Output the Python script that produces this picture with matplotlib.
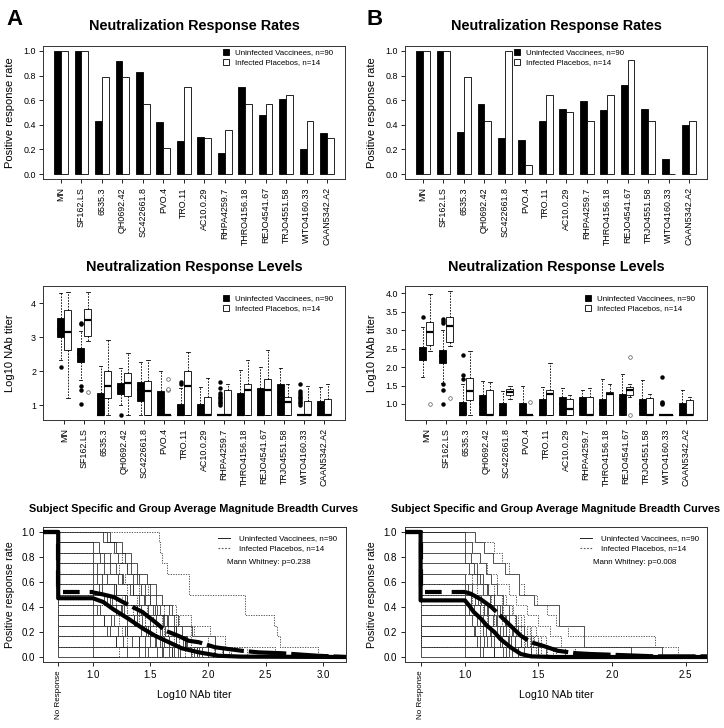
import numpy as np
import matplotlib
matplotlib.use('Agg')
import matplotlib.pyplot as plt
from matplotlib.lines import Line2D

plt.rcParams['font.family'] = ['Liberation Sans', 'DejaVu Sans']
plt.rcParams['axes.linewidth'] = 0.7

W, H = 724, 728

isolates = ['MN', 'SF162.LS', '6535.3', 'QH0692.42', 'SC422661.8', 'PVO.4', 'TRO.11',
            'AC10.0.29', 'RHPA4259.7', 'THRO4156.18', 'REJO4541.67', 'TRJO4551.58',
            'WITO4160.33', 'CAAN5342.A2']

# ---------------- response rates ----------------
rate_vacc_A = [1.0, 1.0, 0.43, 0.92, 0.83, 0.42, 0.27, 0.30, 0.17, 0.71, 0.48, 0.61, 0.20, 0.33]
rate_plac_A = [1.0, 1.0, 0.79, 0.79, 0.57, 0.21, 0.71, 0.29, 0.36, 0.57, 0.57, 0.64, 0.43, 0.29]
rate_vacc_B = [1.0, 1.0, 0.34, 0.57, 0.29, 0.28, 0.43, 0.53, 0.59, 0.52, 0.72, 0.53, 0.12, 0.40]
rate_plac_B = [1.0, 1.0, 0.79, 0.43, 1.0, 0.07, 0.64, 0.50, 0.43, 0.64, 0.93, 0.43, 0.0, 0.43]

# ---------------- response levels (box statistics, log10 titer) ----------------
q1_vacc_A = [2.99, 2.28, 0.70, 1.31, 1.13, 0.70, 0.70, 0.70, 0.70, 0.70, 0.70, 0.70, 0.70, 0.70]
med_vacc_A = [3.25, 2.50, 0.70, 1.50, 1.45, 0.70, 0.70, 0.70, 0.70, 0.70, 0.70, 1.10, 0.70, 0.70]
q3_vacc_A = [3.56, 2.69, 1.36, 1.66, 1.67, 1.40, 1.03, 1.03, 0.70, 1.35, 1.51, 1.62, 0.70, 1.11]
lo_vacc_A = [2.32, 1.73, 0.70, 0.99, 0.70, 0.70, 0.70, 0.70, 0.70, 0.70, 0.70, 0.70, 0.70, 0.70]
hi_vacc_A = [4.30, 3.17, 2.15, 2.10, 2.28, 2.00, 1.50, 1.53, 0.70, 2.02, 2.11, 2.08, 0.70, 1.54]
out_vacc_A = [[2.13], [3.41, 3.37, 1.56, 1.44, 1.04], [], [0.70], [], [], [1.63, 1.68], [],
              [1.0, 1.05, 1.1, 1.15, 1.2, 1.25, 1.3, 1.35, 1.5, 1.68], [], [], [],
              [1.0, 1.05, 1.1, 1.15, 1.2, 1.25, 1.3, 1.35, 1.4, 1.62], []]

q1_plac_A = [2.61, 3.04, 1.22, 1.28, 0.70, 0.70, 0.70, 0.70, 0.70, 0.70, 0.70, 0.70, 0.70, 0.70]
med_plac_A = [3.14, 3.50, 1.56, 1.65, 1.40, 0.70, 1.57, 0.70, 0.70, 1.43, 1.43, 1.08, 0.70, 0.70]
q3_plac_A = [3.80, 3.81, 1.99, 1.95, 1.70, 0.70, 2.00, 1.25, 1.44, 1.62, 1.78, 1.25, 1.11, 1.18]
lo_plac_A = [1.22, 2.88, 0.70, 0.70, 0.70, 0.70, 0.70, 0.70, 0.70, 0.70, 0.70, 0.70, 0.70, 0.70]
hi_plac_A = [4.32, 4.32, 2.92, 2.54, 2.31, 0.70, 2.57, 1.80, 1.63, 2.32, 2.63, 1.61, 1.56, 1.61]
out_plac_A = [[], [1.39], [], [], [], [1.43, 1.47, 1.78], [], [], [], [], [], [], [], []]

q1_vacc_B = [2.19, 2.11, 0.70, 0.70, 0.70, 0.70, 0.70, 0.70, 0.70, 0.70, 0.70, 0.70, 0.70, 0.70]
med_vacc_B = [2.38, 2.30, 0.70, 1.00, 0.70, 0.70, 0.70, 1.00, 1.00, 1.00, 1.10, 1.00, 0.70, 0.70]
q3_vacc_B = [2.55, 2.47, 1.06, 1.24, 1.03, 1.03, 1.14, 1.18, 1.18, 1.14, 1.28, 1.14, 0.70, 1.03]
lo_vacc_B = [1.72, 1.56, 0.70, 0.70, 0.70, 0.70, 0.70, 0.70, 0.70, 0.70, 0.70, 0.70, 0.70, 0.70]
hi_vacc_B = [3.08, 3.01, 1.55, 1.63, 1.34, 1.50, 1.45, 1.42, 1.39, 1.67, 1.80, 1.65, 0.70, 1.39]
out_vacc_B = [[3.36], [3.31, 3.25, 3.19, 1.54, 1.38, 1.0], [2.33, 1.79, 1.68], [], [], [], [], [],
              [], [], [], [], [1.0, 1.03, 1.06, 1.74], []]

q1_plac_B = [2.60, 2.69, 1.11, 0.70, 1.25, 0.70, 0.70, 0.70, 0.70, 0.70, 1.23, 0.70, 0.70, 0.70]
med_plac_B = [2.94, 3.12, 1.35, 0.70, 1.32, 0.70, 1.26, 0.86, 0.70, 1.27, 1.39, 0.70, 0.70, 0.70]
q3_plac_B = [3.21, 3.36, 1.70, 1.38, 1.41, 0.70, 1.38, 1.13, 1.18, 1.33, 1.46, 1.16, 0.70, 1.10]
lo_plac_B = [2.44, 2.58, 0.70, 0.70, 1.14, 0.70, 0.70, 0.70, 0.70, 0.70, 1.20, 0.70, 0.70, 0.70]
hi_plac_B = [3.98, 4.06, 2.45, 1.60, 1.48, 0.70, 2.12, 1.24, 1.43, 1.53, 1.53, 1.26, 0.70, 1.18]
out_plac_B = [[1.0], [1.17], [], [], [], [1.05], [], [], [], [], [2.28, 0.71], [], [], []]

# ---------------- magnitude-breadth: subject titers (responding isolates, log10) ----------------
subj_vacc_A = [
    [1.09, 1.20, 1.28, 1.33, 1.40, 1.45, 1.50, 1.56, 1.62, 1.70, 1.80, 1.95],
    [1.15, 1.25, 1.33, 1.38, 1.47, 1.55, 1.60, 1.69, 1.74, 1.86, 2.06, 2.13],
    [1.12, 1.18, 1.22, 1.30, 1.35, 1.42, 1.50, 1.58, 1.65, 1.72, 1.78, 1.90],
    [1.00, 1.10, 1.20, 1.26, 1.32, 1.40, 1.48, 1.55, 1.63, 1.72, 1.85],
    [1.05, 1.15, 1.30, 1.38, 1.50, 1.55, 1.66, 1.70, 1.77, 1.82, 2.00],
    [1.00, 1.04, 1.12, 1.20, 1.30, 1.38, 1.43, 1.50, 1.60, 1.70],
    [1.06, 1.15, 1.25, 1.35, 1.45, 1.54, 1.61, 1.70, 1.80, 1.92],
    [1.00, 1.08, 1.18, 1.28, 1.38, 1.50, 1.58, 1.66, 1.76],
    [1.10, 1.22, 1.35, 1.44, 1.52, 1.64, 1.72, 1.81, 1.90],
    [1.00, 1.05, 1.15, 1.25, 1.36, 1.46, 1.55, 1.69],
    [1.04, 1.20, 1.30, 1.42, 1.50, 1.60, 1.72, 1.88],
    [1.00, 1.10, 1.20, 1.30, 1.42, 1.54, 1.61],
    [1.08, 1.17, 1.27, 1.36, 1.48, 1.58, 1.74],
    [1.00, 1.06, 1.16, 1.28, 1.40, 1.56],
    [1.12, 1.24, 1.38, 1.50, 1.62, 1.69],
    [1.00, 1.10, 1.22, 1.34, 1.48],
    [1.04, 1.18, 1.30, 1.45, 1.60],
    [1.00, 1.12, 1.26, 1.40],
    [1.10, 1.30, 1.50, 1.90],
    [1.00, 1.20, 1.45],
    [1.15, 1.40, 1.66],
    [1.00, 1.30],
    [1.20, 2.06],
    [1.00],
    [2.13],
    [],
]
subj_plac_A = [
    [1.57, 1.58, 1.60, 1.64, 1.83, 1.83, 2.32, 2.32, 2.57, 2.60, 2.62, 2.95],
    [1.25, 1.30, 1.40, 1.48, 1.60, 1.72, 1.85, 2.02, 2.15, 2.58],
    [1.23, 1.35, 1.45, 1.55, 1.66, 1.75, 1.88, 2.06, 2.20],
    [1.28, 1.40, 1.50, 1.62, 1.72, 1.85, 2.00, 2.12],
    [1.30, 1.38, 1.47, 1.60, 1.70, 1.85, 2.05],
    [1.00, 1.20, 1.35, 1.50, 1.65, 1.78, 1.95],
    [1.25, 1.40, 1.52, 1.62, 1.78, 2.18],
    [1.10, 1.30, 1.45, 1.58, 1.70, 1.90],
    [1.24, 1.40, 1.55, 1.72, 1.86],
    [1.30, 1.45, 1.60, 1.75, 2.34],
    [1.23, 1.42, 1.60, 1.80],
    [1.25, 1.50, 1.70],
    [1.30, 1.60],
    [1.23],
]
subj_vacc_B = [
    [1.07, 1.13, 1.19, 1.27, 1.37, 1.37, 1.47, 1.64, 1.64, 1.81, 1.81, 2.34],
    [1.00, 1.05, 1.10, 1.14, 1.18, 1.22, 1.26, 1.30, 1.35, 1.40, 1.45, 1.50],
    [1.00, 1.04, 1.08, 1.12, 1.16, 1.20, 1.24, 1.28, 1.33, 1.38, 1.45],
    [1.00, 1.06, 1.10, 1.15, 1.20, 1.25, 1.30, 1.36, 1.42, 2.13],
    [1.03, 1.08, 1.12, 1.17, 1.22, 1.27, 1.32, 1.38, 1.50],
    [1.00, 1.05, 1.11, 1.16, 1.21, 1.26, 1.31, 1.36],
    [1.02, 1.07, 1.13, 1.19, 1.24, 1.30, 1.40],
    [1.00, 1.09, 1.15, 1.22, 1.28, 1.34, 1.55],
    [1.00, 1.06, 1.12, 1.18, 1.25, 1.32],
    [1.04, 1.10, 1.16, 1.22, 1.29, 1.45],
    [1.00, 1.08, 1.14, 1.20, 1.28],
    [1.03, 1.10, 1.17, 1.24, 1.36],
    [1.00, 1.07, 1.13, 1.20],
    [1.05, 1.12, 1.18, 1.26],
    [1.00, 1.10, 1.20],
    [1.06, 1.15, 1.30],
    [1.00, 1.12],
    [1.08, 1.20],
    [1.00],
    [1.10],
    [],
]
subj_plac_B = [
    [1.20, 1.25, 1.30, 1.37, 1.40, 1.49, 1.56, 1.62, 1.70, 2.29, 2.45],
    [1.15, 1.22, 1.30, 1.35, 1.42, 1.50, 1.58, 1.65, 1.75],
    [1.10, 1.20, 1.28, 1.33, 1.40, 1.48, 1.55, 1.62],
    [1.05, 1.15, 1.25, 1.32, 1.38, 1.45, 1.52, 1.60],
    [1.12, 1.20, 1.30, 1.36, 1.44, 1.50, 1.68],
    [1.00, 1.10, 1.20, 1.30, 1.40, 1.47, 1.56],
    [1.08, 1.18, 1.26, 1.34, 1.42, 1.50, 2.13],
    [1.10, 1.22, 1.30, 1.38, 1.46, 1.55],
    [1.05, 1.15, 1.27, 1.35, 1.44, 1.52],
    [1.12, 1.25, 1.33, 1.41, 1.50],
    [1.00, 1.15, 1.30, 1.38, 1.45],
    [1.20, 1.30, 1.40, 1.48],
    [1.10, 1.25, 1.36],
    [1.30],
]

# group-average magnitude-breadth curves
avg_vacc_A_x = [0.567, 0.699, 0.699, 1.00, 1.09, 1.18, 1.31, 1.43, 1.54, 1.66, 1.77, 1.92,
                2.09, 2.29, 3.20]
avg_vacc_A_y = [1.0, 1.0, 0.47, 0.47, 0.44, 0.38, 0.305, 0.23, 0.17, 0.118, 0.07, 0.037,
                0.01, 0.003, 0.0]
avg_plac_A_x = [0.567, 0.699, 0.699, 1.00, 1.09, 1.18, 1.28, 1.43, 1.54, 1.63, 1.74, 1.83,
                1.92, 2.06, 2.29, 2.44, 2.64, 2.95, 3.20]
avg_plac_A_y = [1.0, 1.0, 0.517, 0.517, 0.50, 0.48, 0.43, 0.36, 0.28, 0.21, 0.17, 0.13,
                0.118, 0.078, 0.05, 0.037, 0.03, 0.01, 0.0]
avg_vacc_B_x = [0.593, 0.699, 0.699, 1.00, 1.03, 1.06, 1.11, 1.15, 1.20, 1.24, 1.31, 1.38,
                1.45, 1.60, 2.645]
avg_vacc_B_y = [1.0, 1.0, 0.453, 0.453, 0.41, 0.36, 0.305, 0.25, 0.20, 0.145, 0.078, 0.024,
                0.005, 0.0, 0.0]
avg_plac_B_x = [0.593, 0.699, 0.699, 1.00, 1.04, 1.11, 1.18, 1.24, 1.31, 1.38, 1.45, 1.54,
                1.63, 1.76, 1.85, 2.00, 2.30, 2.645]
avg_plac_B_y = [1.0, 1.0, 0.52, 0.52, 0.506, 0.46, 0.40, 0.33, 0.25, 0.17, 0.118, 0.086,
                0.05, 0.03, 0.024, 0.018, 0.005, 0.005]

pval_A = 'Mann Whitney: p=0.238'
pval_B = 'Mann Whitney: p=0.008'
leg_labels = ['Uninfected Vaccinees, n=90', 'Infected Placebos, n=14']

# ---------------- figure ----------------
fig = plt.figure(figsize=(W / 100, H / 100), dpi=100)


def rect(l, t, r, b):
    return [l / W, 1 - b / H, (r - l) / W, (b - t) / H]


def fx(px):
    return px / W


def fy(py):
    return 1 - py / H


TICKFS = 6.4
centers = 3 * np.arange(len(isolates)) + 2


def style_axes(ax):
    ax.tick_params(direction='out', length=3, width=0.6, labelsize=TICKFS, pad=2)
    for s in ax.spines.values():
        s.set_color('#333333')


def square_legend(ax, x_px, y_px):
    h = [Line2D([], [], marker='s', ls='none', mfc='black', mec='black', ms=4.5, mew=0.6),
         Line2D([], [], marker='s', ls='none', mfc='white', mec='black', ms=4.5, mew=0.6)]
    ax.legend(h, leg_labels, loc='upper left', bbox_to_anchor=(fx(x_px), fy(y_px)),
              bbox_transform=fig.transFigure, frameon=False, fontsize=5.7, handlelength=1.0,
              handletextpad=0.6, labelspacing=0.3, borderpad=0, borderaxespad=0)


def bar_panel(rect_, vacc, plac, leg_x):
    ax = fig.add_axes(rect_)
    ax.bar(centers - 0.5, vacc, width=1, color='black', edgecolor='black', linewidth=0.6)
    ax.bar(centers + 0.5, plac, width=1, color='white', edgecolor='black', linewidth=0.6)
    ax.set_xlim(-0.64, 43.64)
    ax.set_ylim(-0.04, 1.04)
    ax.set_xticks(centers)
    ax.set_xticklabels(isolates, rotation=90, fontsize=6.3)
    yt = [0.0, 0.2, 0.4, 0.6, 0.8, 1.0]
    ax.set_yticks(yt)
    ax.set_yticklabels([f'{v:.1f}' for v in yt])
    ax.set_ylabel('Positive response rate', fontsize=8)
    ax.yaxis.set_label_coords(-0.093, 0.5)
    style_axes(ax)
    ax.tick_params(axis='x', pad=3)
    square_legend(ax, leg_x, 49)
    return ax


def make_stats(q1, med, q3, lo, hi, out):
    return [dict(q1=a, med=b, q3=c, whislo=d, whishi=e, fliers=f)
            for a, b, c, d, e, f in zip(q1, med, q3, lo, hi, out)]


def box_panel(rect_, sv, sp, ylim, yt, ytl, leg_x):
    ax = fig.add_axes(rect_)
    common = dict(widths=1.05, patch_artist=True, manage_ticks=False, capwidths=0.5,
                  whiskerprops=dict(color='black', linewidth=0.6, linestyle=(0, (2, 1.5))),
                  capprops=dict(color='black', linewidth=0.6),
                  medianprops=dict(color='black', linewidth=1.6))
    ax.bxp(sv, positions=centers - 0.55,
           boxprops=dict(facecolor='black', edgecolor='black', linewidth=0.6),
           flierprops=dict(marker='o', markersize=2.2, markerfacecolor='black',
                           markeredgecolor='black', linestyle='none'), **common)
    ax.bxp(sp, positions=centers + 0.55,
           boxprops=dict(facecolor='white', edgecolor='black', linewidth=0.6),
           flierprops=dict(marker='o', markersize=2.6, markerfacecolor='white',
                           markeredgecolor='#555555', markeredgewidth=0.5, linestyle='none'),
           **common)
    ax.set_xlim(-1.2, 44.15)
    ax.set_ylim(*ylim)
    ax.set_xticks(centers)
    ax.set_xticklabels(isolates, rotation=90, fontsize=6.3)
    ax.set_yticks(yt)
    ax.set_yticklabels(ytl)
    ax.set_ylabel('Log10 NAb titer', fontsize=8)
    ax.yaxis.set_label_coords(-0.093, 0.5)
    style_axes(ax)
    ax.tick_params(axis='x', pad=3)
    square_legend(ax, leg_x, 295)
    return ax


def subject_curve(ax, titers, xmax, **kw):
    t = sorted(titers)
    k = len(t)
    xs = [0.699, 0.699] + t + [xmax]
    ys = [1.0, k / 12] + [(k - 1 - i) / 12 for i in range(k)] + [0.0]
    ax.plot(xs, ys, drawstyle='steps-post', **kw)


def mb_panel(rect_, sv, sp, vx, vy, px, py, xlim, xt, leg_x):
    ax = fig.add_axes(rect_)
    for t in sv:
        subject_curve(ax, t, xlim[1], color='#222222', lw=0.55, zorder=2)
    for t in sp:
        subject_curve(ax, t, xlim[1], color='#555555', lw=0.7, ls=(0, (1.3, 1.3)), zorder=2)
    ax.plot(vx, vy, color='black', lw=3.0, zorder=4, solid_joinstyle='round')
    # placebo group mean: flat part with clear dashes, descending part with long dashes
    ax.plot(px[:4], py[:4], color='black', lw=3.0, zorder=4, ls=(0, (4.0, 2.4)))
    ax.plot(px[3:], py[3:], color='black', lw=3.0, zorder=4, ls=(0, (9.0, 1.2)),
            dash_joinstyle='round', dash_capstyle='butt')
    ax.set_xlim(*xlim)
    ax.set_ylim(-0.04, 1.04)
    ax.set_xticks([0.699] + xt)
    ax.set_xticklabels(['No Response'] + [f'{v:.1f}' for v in xt])
    yt = [0.0, 0.2, 0.4, 0.6, 0.8, 1.0]
    ax.set_yticks(yt)
    ax.set_yticklabels([f'{v:.1f}' for v in yt])
    style_axes(ax)
    ax.tick_params(labelsize=7, pad=3)
    lab0 = ax.get_xticklabels()[0]
    lab0.set_rotation(90)
    lab0.set_fontsize(5.8)
    ax.set_ylabel('Positive response rate', fontsize=7.7)
    ax.yaxis.set_label_coords(-0.093, 0.5)
    ax.set_xlabel('Log10 NAb titer', fontsize=7.7)
    ax.xaxis.label.set_va('center')
    ax.xaxis.set_label_coords(0.5, -0.245)
    h = [Line2D([], [], color='#222222', lw=0.7),
         Line2D([], [], color='#555555', lw=0.8, ls=(0, (1.5, 1.5)))]
    ax.legend(h, leg_labels, loc='upper left', bbox_to_anchor=(fx(leg_x), fy(535)),
              bbox_transform=fig.transFigure, frameon=False, fontsize=5.7, handlelength=1.5,
              handletextpad=1.2, labelspacing=0.3, borderpad=0, borderaxespad=0)
    return ax


# top row
bar_panel(rect(43, 46, 345, 179), rate_vacc_A, rate_plac_A, 222)
bar_panel(rect(405, 46, 707, 179), rate_vacc_B, rate_plac_B, 513)

# middle row
box_panel(rect(43, 286, 345, 420),
          make_stats(q1_vacc_A, med_vacc_A, q3_vacc_A, lo_vacc_A, hi_vacc_A, out_vacc_A),
          make_stats(q1_plac_A, med_plac_A, q3_plac_A, lo_plac_A, hi_plac_A, out_plac_A),
          (0.56, 4.5), [1, 2, 3, 4], ['1', '2', '3', '4'], 222)
box_panel(rect(405, 286, 707, 420),
          make_stats(q1_vacc_B, med_vacc_B, q3_vacc_B, lo_vacc_B, hi_vacc_B, out_vacc_B),
          make_stats(q1_plac_B, med_plac_B, q3_plac_B, lo_plac_B, hi_plac_B, out_plac_B),
          (0.565, 4.2), [1.0, 1.5, 2.0, 2.5, 3.0, 3.5, 4.0],
          ['1.0', '1.5', '2.0', '2.5', '3.0', '3.5', '4.0'], 584)

# bottom row
mb_panel(rect(43, 527, 346, 662), subj_vacc_A, subj_plac_A, avg_vacc_A_x, avg_vacc_A_y,
         avg_plac_A_x, avg_plac_A_y, (0.567, 3.197), [1.0, 1.5, 2.0, 2.5, 3.0], 218)
mb_panel(rect(405, 527, 707, 662), subj_vacc_B, subj_plac_B, avg_vacc_B_x, avg_vacc_B_y,
         avg_plac_B_x, avg_plac_B_y, (0.593, 2.645), [1.0, 1.5, 2.0, 2.5], 580)

fig.text(fx(227), fy(563), pval_A, fontsize=5.7, va='center', ha='left')
fig.text(fx(593), fy(563), pval_B, fontsize=5.7, va='center', ha='left')

# titles
for cx in (194, 556):
    fig.text(fx(cx), fy(26), 'Neutralization Response Rates', fontsize=10.4,
             weight='bold', ha='center', va='center')
    fig.text(fx(cx), fy(267), 'Neutralization Response Levels', fontsize=10.4,
             weight='bold', ha='center', va='center')
    fig.text(fx(cx), fy(509), 'Subject Specific and Group Average Magnitude Breadth Curves',
             fontsize=7.8, weight='bold', ha='center', va='center')

fig.text(fx(6), fy(25), 'A', fontsize=16, weight='bold', ha='left', va='baseline')
fig.text(fx(367), fy(25), 'B', fontsize=16, weight='bold', ha='left', va='baseline')

fig.savefig('out.png', dpi=100)
